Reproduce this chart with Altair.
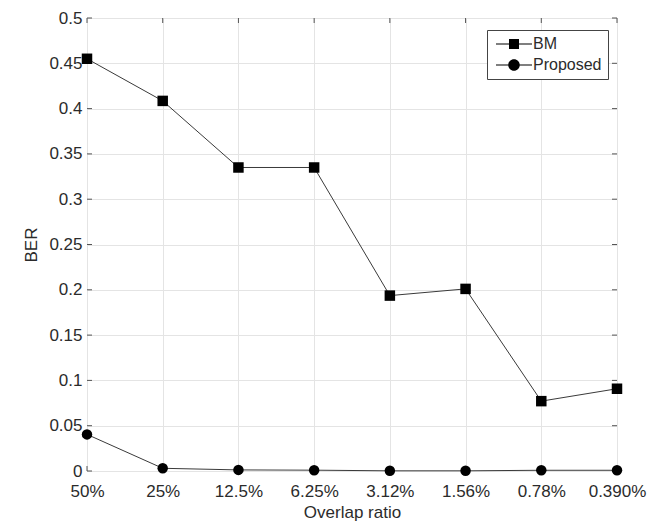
import altair as alt
import pandas as pd

ratios = ["50%", "25%", "12.5%", "6.25%", "3.12%", "1.56%", "0.78%", "0.390%"]
bm = [0.455, 0.4085, 0.335, 0.335, 0.1936, 0.201, 0.0771, 0.0908]
proposed = [0.0404, 0.003, 0.0012, 0.0009, 0.0002, 0.0002, 0.0008, 0.0008]
series_names = ["BM", "Proposed"]
y_ticks = [0, 0.05, 0.1, 0.15, 0.2, 0.25, 0.3, 0.35, 0.4, 0.45, 0.5]

W, H = 530, 453
FONT = "Liberation Sans"
TXT = "#2b2b2b"
TICK = "#555555"
FS = 17

df = pd.DataFrame({
    "ratio": ratios * 2,
    "BER": bm + proposed,
    "series": [series_names[0]] * len(ratios) + [series_names[1]] * len(ratios),
})
yt = pd.DataFrame({"BER": y_ticks})
xt = pd.DataFrame({"ratio": ratios})


def x_enc():
    return alt.X(
        "ratio:N",
        sort=ratios,
        scale=alt.Scale(type="point", domain=ratios, padding=0),
        axis=alt.Axis(
            title="Overlap ratio", labelAngle=0, grid=True, gridColor="#e4e4e4",
            domain=False, ticks=False, tickSize=0, labelPadding=12, titlePadding=5,
            labelFontSize=FS, titleFontSize=FS, labelFont=FONT, titleFont=FONT,
            labelColor=TXT, titleColor=TXT, titleFontWeight="normal",
        ),
    )


def y_enc():
    return alt.Y(
        "BER:Q",
        scale=alt.Scale(domain=[0, 0.5], nice=False, zero=True),
        axis=alt.Axis(
            title="BER", values=y_ticks, format="~g", grid=True, gridColor="#e4e4e4",
            domain=False, ticks=False, tickSize=0, labelPadding=5, titlePadding=8,
            labelFontSize=FS, titleFontSize=FS, labelFont=FONT, titleFont=FONT,
            labelColor=TXT, titleColor=TXT, titleFontWeight="normal",
        ),
    )


# legend symbols: a short line with the marker in its middle (all filled shapes)
sq_path = "M-3.6,-0.1H-1V0.1H-3.6Z M1,-0.1H3.6V0.1H1Z M-1,-1H1V1H-1Z"
ci_path = ("M-3.6,-0.1H-1.1V0.1H-3.6Z M1.1,-0.1H3.6V0.1H1.1Z "
           "M-1.15,0A1.15,1.15,0,1,1,1.15,0A1.15,1.15,0,1,1,-1.15,0Z")

legend = alt.Legend(
    title=None, orient="none", legendX=400, legendY=12,
    symbolSize=100, symbolOffset=13, labelOffset=11, rowPadding=5,
    symbolOpacity=1, symbolFillColor="black", symbolStrokeWidth=0,
    labelFontSize=16, labelFont=FONT, labelColor=TXT, padding=6,
    strokeColor="#444444", fillColor="white",
)

lines = alt.Chart(df).mark_line(color="#3a3a3a", strokeWidth=1).encode(
    x=x_enc(), y=y_enc(), detail="series:N"
)
points = alt.Chart(df).mark_point(filled=True, size=110, color="black", opacity=1).encode(
    x=x_enc(), y=y_enc(),
    shape=alt.Shape("series:N", scale=alt.Scale(domain=series_names, range=["square", "circle"]), legend=None),
)
legend_layer = alt.Chart(df).mark_point(
    filled=True, color="black", size=100, opacity=0
).encode(
    x=x_enc(), y=y_enc(),
    shape=alt.Shape("series:N", scale=alt.Scale(domain=series_names, range=[sq_path, ci_path]), legend=legend),
)

left_ticks = alt.Chart(yt).mark_rule(color=TICK, strokeWidth=1).encode(
    y=y_enc(), x=alt.value(0), x2=alt.value(5)
)
right_ticks = alt.Chart(yt).mark_rule(color=TICK, strokeWidth=1).encode(
    y=y_enc(), x=alt.value(W - 5), x2=alt.value(W)
)
bottom_ticks = alt.Chart(xt).mark_rule(color=TICK, strokeWidth=1).encode(
    x=x_enc(), y=alt.value(H - 5), y2=alt.value(H)
)
top_ticks = alt.Chart(xt).mark_rule(color=TICK, strokeWidth=1).encode(
    x=x_enc(), y=alt.value(0), y2=alt.value(5)
)

chart = alt.layer(
    left_ticks, right_ticks, bottom_ticks, top_ticks, lines, points, legend_layer
).resolve_scale(
    shape="independent"
).properties(
    width=W, height=H,
    autosize=alt.AutoSizeParams(type="none"),
    padding={"left": 79, "top": 10, "right": 30, "bottom": 50},
).configure_view(
    stroke="#444444", strokeWidth=1
).configure(background="white")

chart.save("out.html", embed_options={"renderer": "svg", "actions": False})
